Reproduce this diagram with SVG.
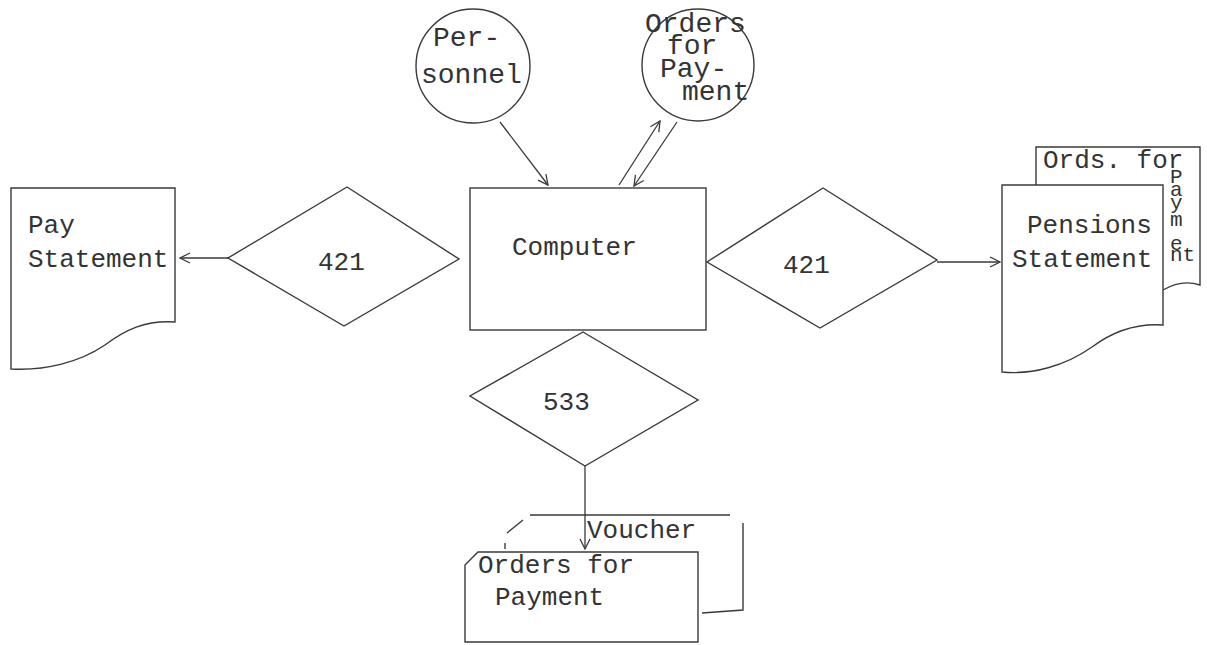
<svg xmlns="http://www.w3.org/2000/svg" width="1207" height="645" viewBox="0 0 1207 645">
<defs>
<style>
.s{fill:none;stroke:#3a3a3a;stroke-width:1.4;stroke-linejoin:miter}
.w{fill:#fff;stroke:#3a3a3a;stroke-width:1.4}
.t{font-family:"Liberation Mono","Courier New",monospace;font-size:26px;fill:#333}
.b{font-size:28px}
.v{font-size:21px}
.c{stroke:#3a3a3a;stroke-width:1.3;fill:none}
</style>
<marker id="ah" viewBox="0 0 12 12" refX="11" refY="6" markerWidth="12" markerHeight="12" markerUnits="userSpaceOnUse" orient="auto">
<path d="M1,1 L11,6 L1,11" fill="none" stroke="#3a3a3a" stroke-width="1.3"/>
</marker>
</defs>
<rect width="1207" height="645" fill="#fff"/>

<g id="connectors">
<line class="c" x1="228" y1="258" x2="180" y2="258" marker-end="url(#ah)"/>
<line class="c" x1="500" y1="122" x2="548" y2="185" marker-end="url(#ah)"/>
<line class="c" x1="619" y1="185" x2="660" y2="121" marker-end="url(#ah)"/>
<line class="c" x1="677" y1="122" x2="634" y2="186" marker-end="url(#ah)"/>
<line class="c" x1="937" y1="262" x2="1000" y2="262" marker-end="url(#ah)"/>
<line class="c" x1="585" y1="466" x2="585" y2="549" marker-end="url(#ah)"/>
</g>

<g id="pay-statement">
<path class="w" d="M11,188 L175,188 L175,322 C145,320 125,330 105,345 C80,362 45,371 11,369 Z"/>
<text class="t" x="28" y="233">Pay</text>
<text class="t" x="28" y="267">Statement</text>
</g>

<g id="diamond-421-left">
<path class="w" d="M347,187 L459,259 L344,326 L228,258 Z"/>
<text class="t" x="318" y="270">421</text>
</g>

<g id="personnel">
<circle class="w" cx="473" cy="66" r="57"/>
<text class="t b" x="433" y="46">Per-</text>
<text class="t b" x="421" y="83">sonnel</text>
</g>

<g id="orders-for-payment-circle">
<circle class="w" cx="698" cy="65" r="56"/>
<text class="t b" x="645" y="32">Orders</text>
<text class="t b" x="667" y="54">for</text>
<text class="t b" x="660" y="77">Pay-</text>
<text class="t b" x="682" y="100">ment</text>
</g>

<g id="computer">
<rect class="w" x="470" y="188" width="236" height="142"/>
<text class="t" x="512" y="255">Computer</text>
</g>

<g id="diamond-421-right">
<path class="w" d="M823,188 L937,260 L820,328 L707,262 Z"/>
<text class="t" x="783" y="273">421</text>
</g>

<g id="pensions-statement">
<path class="w" d="M1036,185 L1036,147 L1200,147 L1200,285 C1188,281 1175,283 1163,290"/>
<text class="t" x="1043" y="168">Ords. for</text>
<text class="t v"><tspan x="1170" y="183">P</tspan><tspan x="1170" y="196">a</tspan><tspan x="1170" y="209">y</tspan><tspan x="1170" y="226">m</tspan><tspan x="1170" y="250">e</tspan><tspan x="1170" y="261">nt</tspan></text>
<path class="w" d="M1002,185 L1163,185 L1163,325 C1135,323 1112,332 1092,347 C1065,366 1032,375 1002,372 Z"/>
<text class="t" x="1027" y="233">Pensions</text>
<text class="t" x="1012" y="267">Statement</text>
</g>

<g id="diamond-533">
<path class="w" d="M583,332 L698,400 L585,466 L470,396 Z"/>
<text class="t" x="543" y="410">533</text>
</g>

<g id="orders-for-payment-voucher">
<path class="s" d="M530,515 L730,515 M743,523 L743,610 L702,613 M507,533 L523,520 M505,543 L505,549"/>
<text class="t" x="587" y="538">Voucher</text>
<path class="w" d="M465,565 L478,552 L698,552 L698,642 L465,642 Z"/>
<text class="t" x="478" y="573">Orders for</text>
<text class="t" x="495" y="605">Payment</text>
</g>
</svg>
